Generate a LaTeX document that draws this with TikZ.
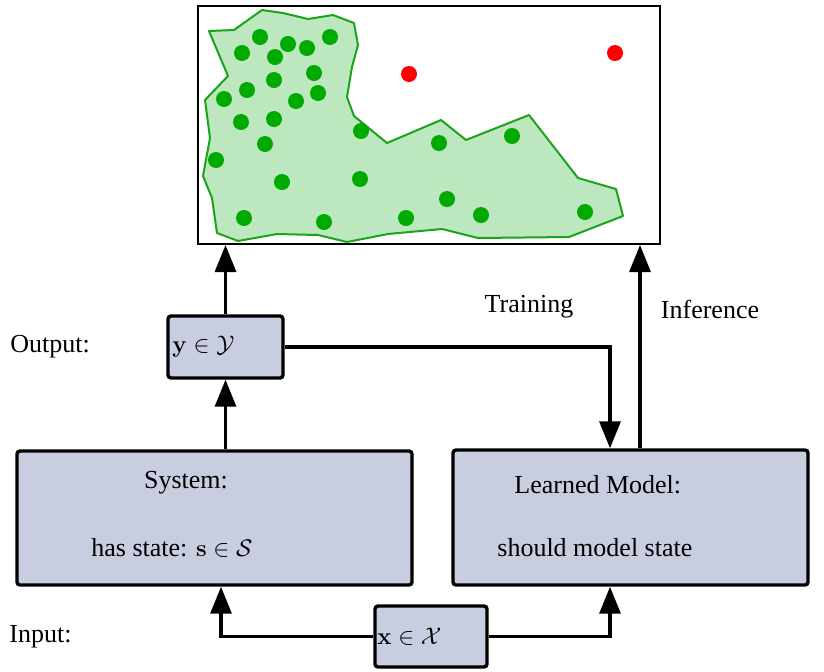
\documentclass[tikz,border=0pt]{standalone}
\usepackage[no-math]{fontspec}
\setmainfont{Liberation Serif}
\usetikzlibrary{arrows.meta}
\definecolor{boxfill}{HTML}{C8CEE0}
\definecolor{dotgreen}{HTML}{00AA00}
\definecolor{regfill}{HTML}{BDE7BF}
\definecolor{reggreen}{HTML}{1BA41B}
\tikzset{
  blockbox/.style={draw=black, fill=boxfill, line width=1.7pt, rounded corners=1.5pt, inner sep=0pt},
  arr/.style={line width=1.6pt, -{Triangle[length=13.5pt,width=10.5pt]}},
  lbl/.style={inner sep=0pt, font=\fontsize{13}{15.5}\selectfont},
  gdot/.style={fill=dotgreen},
  rdot/.style={fill=red}
}
\begin{document}
\begin{tikzpicture}[x=0.5pt,y=-0.5pt]
\useasboundingbox (0,0) rectangle (824,671);
% top panel
\node[draw=black, line width=1pt, minimum width=231pt, minimum height=119pt, inner sep=0pt] (top) at (429,125) {};
\fill[regfill, draw=reggreen, line width=1pt, line join=round]
 (209,31) -- (234,30) -- (262,10) -- (283,13) -- (308,19) -- (333,15) -- (354,23) -- (358,45) -- (352,67) -- (347,97) -- (354,116) -- (387,143) -- (441,120) -- (466,140) -- (529,115) -- (578,178) -- (616,189) -- (623,216) -- (569,237) -- (478,238) -- (442,229) -- (388,234) -- (347,242) -- (318,235) -- (277,234) -- (238,241) -- (217,233) -- (212,198) -- (203,176) -- (210,138) -- (205,100) -- (228,76) -- cycle;
\foreach \px/\py in {260/37,242/53,288/44,307/48,330/37,275/57,314/73,274/80,247/90,224/99,296/101,318/93,241/122,274/119,361/131,265/144,439/143,512/136,216/160,282/182,360/179,447/199,244/218,324/222,406/218,481/215,585/212}
  \fill[gdot] (\px,\py) circle[radius=4pt];
\fill[rdot] (409,74) circle[radius=4pt];
\fill[rdot] (615,53) circle[radius=4pt];
% blocks
\node[blockbox, minimum width=57.5pt, minimum height=31pt] (ybox) at (225.5,347) {};
\node[blockbox, minimum width=197.5pt, minimum height=67pt] (sys) at (214.5,518) {};
\node[blockbox, minimum width=177.5pt, minimum height=67.5pt] (learn) at (630.5,517.5) {};
\node[blockbox, minimum width=56pt, minimum height=30.5pt] (xbox) at (431,636.5) {};
% texts
\node[lbl, anchor=west] (ytxt) at (172,347) {$\mathbf{y}\in\mathcal{Y}$};
\node[lbl, anchor=west] (xtxt) at (377,637) {$\mathbf{x}\in\mathcal{X}$};
\node[lbl] (systxt) at (186,483) {System:};
\node[lbl, anchor=west] (statetxt) at (91,548) {has state: $\mathbf{s}\in\mathcal{S}$};
\node[lbl, anchor=west] (lmtxt) at (514,485) {Learned Model:};
\node[lbl, anchor=west] (smtxt) at (497,548) {should model state};
\node[lbl] (train) at (529,307) {Training};
\node[lbl] (infer) at (710,309) {Inference};
\node[lbl, anchor=west] (outl) at (10,347) {Output:};
\node[lbl, anchor=west] (inl) at (9,637) {Input:};
% coordinates for connectors
\coordinate (tx) at (610,0);
\coordinate (ix) at (640,0);
\coordinate (inx) at (221,0);
% connectors
\draw[arr] (sys.north -| ybox.south) -- (ybox.south);
\draw[arr] (ybox.north) -- (ybox.north |- top.south);
\draw[arr] (ybox.east) -| (tx |- learn.north);
\draw[arr] (ix |- learn.north) -- (ix |- top.south);
\draw[arr] (xbox.west) -| (inx |- sys.south);
\draw[arr] (xbox.east) -| (tx |- learn.south);
\end{tikzpicture}
\end{document}
